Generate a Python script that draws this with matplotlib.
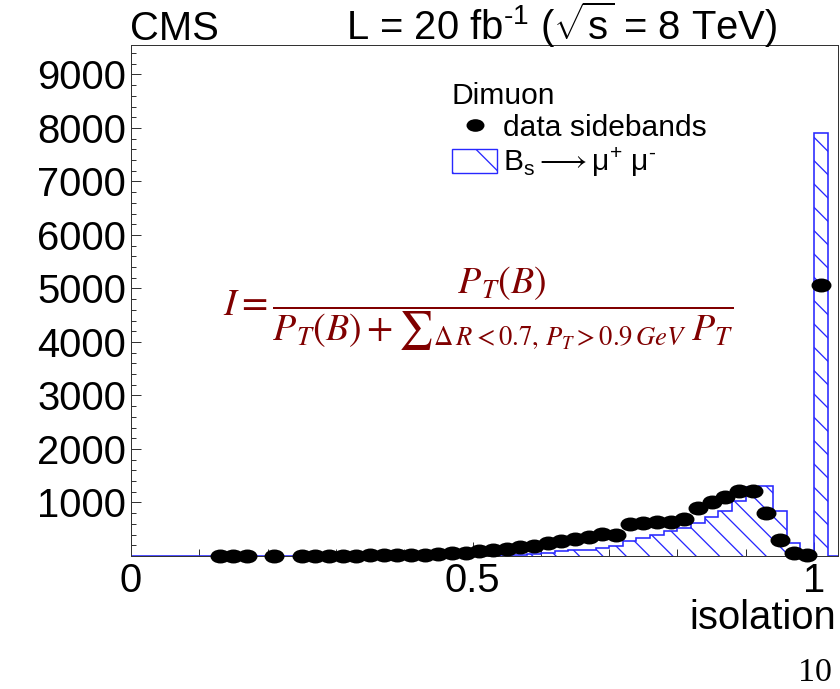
import matplotlib
matplotlib.use("Agg")
import matplotlib.pyplot as plt
import numpy as np
from matplotlib.lines import Line2D
from matplotlib.patches import Patch
from matplotlib.path import Path
from matplotlib.ticker import MultipleLocator

# values
SIDEBAND_X = [0.13, 0.15, 0.17, 0.21, 0.25, 0.27, 0.29, 0.31, 0.33, 0.35,
              0.37, 0.39, 0.41, 0.43, 0.45, 0.47, 0.49, 0.51, 0.53, 0.55,
              0.57, 0.59, 0.61, 0.63, 0.65, 0.67, 0.69, 0.71, 0.73, 0.75,
              0.77, 0.79, 0.81, 0.83, 0.85, 0.87, 0.89, 0.91, 0.93, 0.95,
              0.97, 0.99, 1.01]
SIDEBAND_COUNTS = [2, 2, 2, 3, 4, 5, 6, 7, 8, 10,
                   12, 15, 20, 25, 35, 50, 65, 85, 105, 130,
                   160, 195, 235, 275, 320, 350, 405, 400, 590, 610,
                   640, 630, 690, 900, 1010, 1100, 1220, 1220, 800, 300,
                   55, 15, 5060]

SIGNAL_EDGES = np.linspace(0.0, 1.04, 53)
SIGNAL_COUNTS = [0] * 20 + [1, 1, 2, 2, 3, 5, 8, 12, 22, 32,
                            55, 85, 105, 120, 150, 185, 285, 340, 390, 475,
                            515, 620, 720, 845, 1035, 1295, 1300, 845, 250, 10,
                            7900, 0]

X_TICKS = [0, 0.5, 1]
X_TICK_LABELS = ["0", "0.5", "1"]
Y_TICKS = [1000, 2000, 3000, 4000, 5000, 6000, 7000, 8000, 9000]

DPI = 140
BLUE = "#2828ff"
DARK_RED = "#800000"
TICK_PX = 40
LEGEND_PX = 30


def pt(px):
    return px * 72 / DPI


plt.rcParams["font.family"] = ["Liberation Sans", "DejaVu Sans"]
plt.rcParams["mathtext.fontset"] = "custom"
plt.rcParams["mathtext.rm"] = "Liberation Sans"
plt.rcParams["mathtext.it"] = "Liberation Sans:italic"
plt.rcParams["mathtext.bf"] = "Liberation Sans:bold"
plt.rcParams["hatch.linewidth"] = pt(1.3)

circle = Path.unit_circle()
ellipse = Path(circle.vertices * np.array([1.5, 1.0]), circle.codes)

fig = plt.figure(figsize=(840 / DPI, 689 / DPI), dpi=DPI)
ax = fig.add_axes([131 / 840, 1 - 556 / 689, 707 / 840, 511 / 689])

ax.stairs(SIGNAL_COUNTS, SIGNAL_EDGES, fill=True, facecolor="none",
          edgecolor=BLUE, hatch="\\\\", linewidth=pt(1.6), zorder=2)
ax.plot(SIDEBAND_X, SIDEBAND_COUNTS, linestyle="none", marker=ellipse,
        markersize=pt(18), color="black", zorder=3, clip_on=False)

ax.set_xlim(0, 1.035)
ax.set_ylim(0, 9550)
ax.set_xticks(X_TICKS)
ax.set_xticklabels(X_TICK_LABELS)
ax.set_yticks(Y_TICKS)
ax.xaxis.set_minor_locator(MultipleLocator(0.1))
ax.yaxis.set_minor_locator(MultipleLocator(200))
ax.tick_params(axis="both", which="both", direction="in",
               labelsize=pt(TICK_PX), width=pt(1.0), color="#333333")
ax.tick_params(axis="x", which="major", length=pt(14), pad=pt(6))
ax.tick_params(axis="x", which="minor", length=pt(7))
ax.tick_params(axis="y", which="major", length=pt(10), pad=pt(5))
ax.tick_params(axis="y", which="minor", length=pt(5))
for spine in ax.spines.values():
    spine.set_linewidth(pt(1.0))
    spine.set_color("#333333")

ax.set_xlabel("isolation", fontsize=pt(TICK_PX), ha="right", va="top")
ax.xaxis.set_label_coords(0.997, -0.085)

legend_handles = [
    Line2D([], [], linestyle="none", marker=ellipse, markersize=pt(16),
           color="black"),
    Patch(facecolor="none", edgecolor=BLUE, hatch="\\", linewidth=pt(1.4)),
]
legend_labels = ["data sidebands",
                 r"B$_\mathrm{s}\longrightarrow$μ$^{+}$ μ$^{\text{-}}$"]
ax.legend(legend_handles, legend_labels, title="Dimuon", loc="upper left",
          bbox_to_anchor=(452 / 840, 1 - 82 / 689),
          bbox_transform=fig.transFigure, frameon=False, alignment="left",
          fontsize=pt(LEGEND_PX), title_fontsize=pt(LEGEND_PX),
          borderpad=0, borderaxespad=0, handlelength=1.5, handleheight=0.85,
          handletextpad=0.2, labelspacing=0.12)

fig.text(130 / 840, 1 - 40 / 689, "CMS", fontsize=pt(TICK_PX),
         va="baseline", ha="left")
fig.text(346 / 840, 1 - 40 / 689,
         r"L = 20 fb$^{\text{-1}}$ ($\sqrt{\mathrm{s}}$ = 8 TeV)",
         fontsize=pt(TICK_PX), va="baseline", ha="left")

formula = (r"$I = \dfrac{P_T(B)}{P_T(B) + {\sum}_{\Delta\,R<0.7,\,P_T>0.9\,GeV}"
           r"\;P_T}$")
fig.text(478 / 840, 1 - 309 / 689, formula, color=DARK_RED,
         fontsize=pt(38), math_fontfamily="stix", ha="center", va="center")

fig.text(832 / 840, 1 - 688 / 689, "10", family="Liberation Serif",
         fontsize=pt(34), ha="right", va="bottom")

fig.savefig("out.png", dpi=DPI)
